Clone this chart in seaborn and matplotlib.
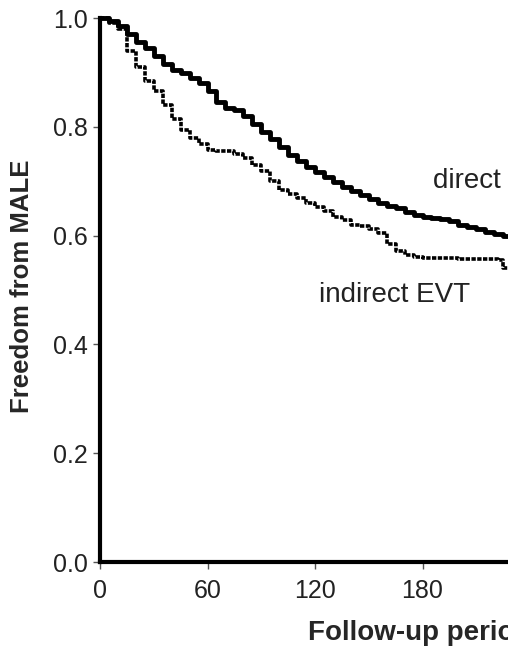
import matplotlib
matplotlib.use('Agg')
import numpy as np
import pandas as pd
import matplotlib.pyplot as plt
import seaborn as sns

# Kaplan-Meier estimates (months, survival)
direct_t = [0, 5, 10, 15, 20, 25, 30, 35, 40, 45, 50, 55, 60, 65, 70, 75, 80, 85, 90, 95,
            100, 105, 110, 115, 120, 125, 130, 135, 140, 145, 150, 155, 160, 165, 170, 175,
            180, 185, 190, 195, 200, 205, 210, 215, 220, 225, 230, 240]
direct_s = [1.0, 0.995, 0.985, 0.97, 0.955, 0.945, 0.93, 0.915, 0.905, 0.898, 0.89, 0.88,
            0.865, 0.845, 0.835, 0.83, 0.82, 0.805, 0.79, 0.778, 0.762, 0.748, 0.737, 0.726,
            0.716, 0.708, 0.698, 0.69, 0.682, 0.675, 0.668, 0.66, 0.655, 0.65, 0.643, 0.638,
            0.635, 0.632, 0.63, 0.627, 0.62, 0.615, 0.612, 0.607, 0.603, 0.60, 0.598, 0.595]

indirect_t = [0, 5, 10, 15, 20, 25, 30, 35, 40, 45, 50, 55, 60, 65, 70, 75, 80, 85, 90, 95,
              100, 105, 110, 115, 120, 125, 130, 135, 140, 145, 150, 155, 160, 165, 170, 175,
              180, 200, 222, 225, 230, 240]
indirect_s = [1.0, 0.99, 0.98, 0.94, 0.91, 0.885, 0.865, 0.84, 0.815, 0.795, 0.78, 0.768,
              0.758, 0.755, 0.755, 0.75, 0.742, 0.73, 0.718, 0.70, 0.684, 0.677, 0.67, 0.66,
              0.652, 0.645, 0.635, 0.628, 0.62, 0.617, 0.612, 0.605, 0.585, 0.572, 0.565,
              0.56, 0.558, 0.557, 0.556, 0.54, 0.53, 0.52]

x_ticks = [0, 60, 120, 180, 240]
y_ticks = [0.0, 0.2, 0.4, 0.6, 0.8, 1.0]

sns.set_style('white')
plt.rcParams['font.family'] = ['Liberation Sans', 'DejaVu Sans']

df = pd.concat([
    pd.DataFrame({'t': direct_t, 's': direct_s, 'group': 'direct EVT'}),
    pd.DataFrame({'t': indirect_t, 's': indirect_s, 'group': 'indirect EVT'}),
])

fig = plt.figure(figsize=(5.08, 6.49), dpi=100)
ax = fig.add_axes([100 / 508, 87 / 649, 430 / 508, 544 / 649])

sns.lineplot(data=df[df.group == 'direct EVT'], x='t', y='s', ax=ax, color='black',
             linewidth=3.5, drawstyle='steps-post', sort=False, clip_on=False)
sns.lineplot(data=df[df.group == 'indirect EVT'], x='t', y='s', ax=ax, color='black',
             linewidth=2.6, linestyle=(0, (1.2, 0.4)), drawstyle='steps-post', sort=False,
             clip_on=False)

ax.set_xlim(0, 240)
ax.set_ylim(0, 1.0)
ax.set_xticks(x_ticks)
ax.set_yticks(y_ticks)
ax.set_yticklabels([f'{v:.1f}' for v in y_ticks])
ax.tick_params(axis='both', labelsize=18, length=5, width=1, color='#555555',
               direction='out', left=True, bottom=True, labelcolor='#222222')
ax.tick_params(axis='y', pad=4)
ax.tick_params(axis='x', pad=7)
ax.set_xlabel('')
ax.set_ylabel('')
for side in ['top', 'right']:
    ax.spines[side].set_visible(False)
for side in ['left', 'bottom']:
    ax.spines[side].set_linewidth(3)
    ax.spines[side].set_color('black')

ax.text(186, 0.70, 'direct EVT', fontsize=20, color='#222222', va='center')
ax.text(122, 0.49, 'indirect EVT', fontsize=20, color='#222222', va='center')
fig.text(22 / 508, 1 - 286 / 649, 'Freedom from MALE', fontsize=18.5, fontweight='bold',
         rotation=90, va='center', ha='center')
fig.text(308 / 508, 1 - 633 / 649, 'Follow-up period (months)', fontsize=20,
         fontweight='bold', va='center', ha='left')

fig.savefig('out.png', dpi=100)
